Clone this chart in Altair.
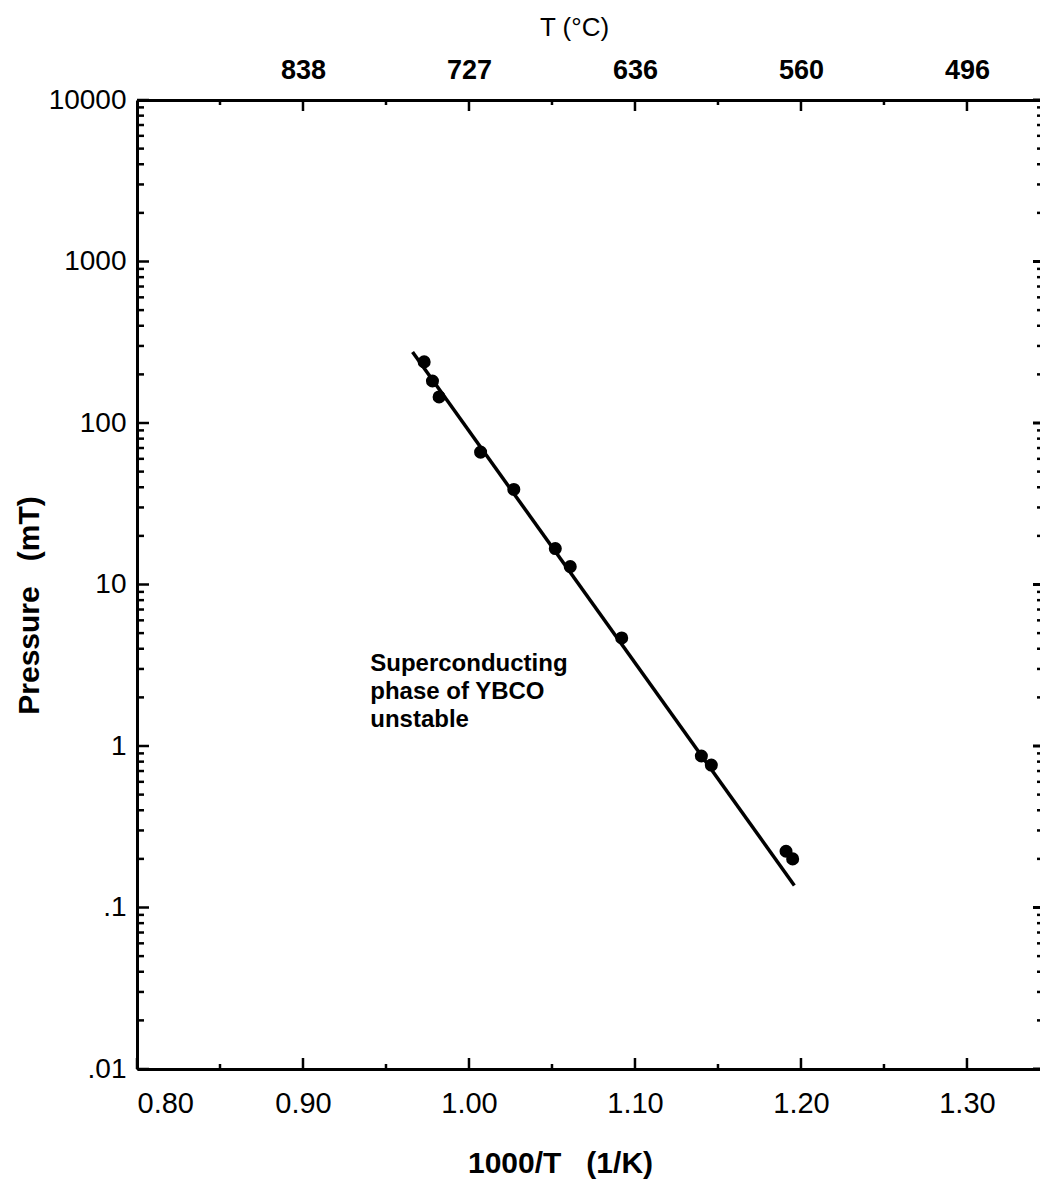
import math
import altair as alt
import pandas as pd

# ---- data ----
inv_T = [0.973, 0.978, 0.982, 1.007, 1.027, 1.052, 1.061, 1.092, 1.140, 1.146, 1.191, 1.195]
pressure = [239, 182, 145, 66, 38.8, 16.7, 12.9, 4.67, 0.867, 0.762, 0.223, 0.200]

fit_x = [0.966, 1.196]
fit_p = [275, 0.137]

x_major = [0.8, 0.9, 1.0, 1.1, 1.2, 1.3]
x_minor = [0.85, 0.95, 1.05, 1.15, 1.25]
top_major = [0.9, 1.0, 1.1, 1.2, 1.3]
top_labels = ["838", "727", "636", "560", "496"]
y_major = [0.01, 0.1, 1, 10, 100, 1000, 10000]
y_labels = [".01", ".1", "1", "10", "100", "1000", "10000"]
y_minor = [m * d for d in [0.01, 0.1, 1, 10, 100, 1000] for m in range(2, 10)]

ann_x = [0.9405]
ann_y = [2.92]
ann_text = ["Superconducting\nphase of YBCO\nunstable"]

W, H = 903, 969
FONT = "Liberation Sans"
NB = "\u00a0"

xscale = alt.Scale(domain=[0.8, 1.344], nice=False, zero=False)
yscale = alt.Scale(type="log", domain=[0.01, 10000], nice=False)

y_expr = "".join(
    f"round(log(datum.value)/LN10) == {round(math.log10(v))} ? '{l}' : "
    for v, l in zip(y_major, y_labels)
) + "''"
top_expr = "".join(
    f"round(datum.value*10) == {round(v*10)} ? '{l}' : " for v, l in zip(top_major, top_labels)
) + "''"

df_pts = pd.DataFrame({"x": inv_T, "p": pressure})
df_fit = pd.DataFrame({"x": fit_x, "p": fit_p})
df_ann = pd.DataFrame({"x": ann_x, "p": ann_y, "t": ann_text})

bottom_axis = alt.Axis(
    orient="bottom", values=x_major, format=".2f", title=f"1000/T{NB*3}(1/K)",
    labelFontSize=29, labelPadding=20, labelFontWeight="normal",
    titleFontSize=30, titleFontWeight="bold", titleX=423, titleY=94,
    titleBaseline="middle", titleAlign="center")
left_axis = alt.Axis(
    orient="left", values=y_major, labelExpr=y_expr, title=f"Pressure{NB*3}(mT)",
    labelFontSize=28, labelPadding=11, labelFontWeight="normal",
    titleFontSize=30, titleFontWeight="bold", titleX=-108, titleY=505,
    titleBaseline="middle", titleAlign="center")
top_axis = alt.Axis(
    orient="top", values=top_major, labelExpr=top_expr, title="T (°C)",
    labelFontSize=27, labelPadding=16, labelFontWeight="bold",
    titleFontSize=26, titleFontWeight="normal", titleX=437, titleY=-73,
    titleBaseline="middle", titleAlign="center")

tick_style = dict(color="black", strokeWidth=2.5)

# axes carried by tick layers
bot_major_ticks = alt.Chart(pd.DataFrame({"v": x_major})).mark_rule(**tick_style).encode(
    x=alt.X("v:Q", scale=xscale, axis=bottom_axis), y=alt.value(H), y2=alt.value(H - 11),
)
left_major_ticks = alt.Chart(pd.DataFrame({"v": y_major})).mark_rule(**tick_style).encode(
    y=alt.Y("v:Q", scale=yscale, axis=left_axis), x=alt.value(0), x2=alt.value(12),
)
top_major_ticks = alt.Chart(pd.DataFrame({"v": top_major})).mark_rule(**tick_style).encode(
    x=alt.X("v:Q", scale=xscale, axis=top_axis), y=alt.value(0), y2=alt.value(11),
)
top_minor_ticks = alt.Chart(pd.DataFrame({"v": x_minor})).mark_rule(**tick_style).encode(
    x=alt.X("v:Q", scale=xscale, axis=None), y=alt.value(0), y2=alt.value(5),
)
bot_minor_ticks = alt.Chart(pd.DataFrame({"v": x_minor})).mark_rule(**tick_style).encode(
    x=alt.X("v:Q", scale=xscale, axis=None), y=alt.value(H), y2=alt.value(H - 5),
)
left_minor_ticks = alt.Chart(pd.DataFrame({"v": y_minor})).mark_rule(**tick_style).encode(
    y=alt.Y("v:Q", scale=yscale, axis=None), x=alt.value(0), x2=alt.value(7),
)
right_major_ticks = alt.Chart(pd.DataFrame({"v": y_major})).mark_rule(color="black", strokeWidth=3).encode(
    y=alt.Y("v:Q", scale=yscale, axis=None), x=alt.value(W), x2=alt.value(W - 7),
)
right_minor_ticks = alt.Chart(pd.DataFrame({"v": y_minor})).mark_rule(color="black", strokeWidth=2.5).encode(
    y=alt.Y("v:Q", scale=yscale, axis=None), x=alt.value(W), x2=alt.value(W - 3),
)

line = alt.Chart(df_fit).mark_line(color="black", strokeWidth=3.5).encode(
    x=alt.X("x:Q", scale=xscale, axis=None),
    y=alt.Y("p:Q", scale=yscale, axis=None),
)

points = alt.Chart(df_pts).mark_circle(size=170, color="black", opacity=1).encode(
    x=alt.X("x:Q", scale=xscale, axis=None),
    y=alt.Y("p:Q", scale=yscale, axis=None),
)

ann = alt.Chart(df_ann).mark_text(
    align="left", baseline="alphabetic", fontSize=24, fontWeight="bold", font=FONT,
    lineBreak="\n", lineHeight=28, color="black"
).encode(
    x=alt.X("x:Q", scale=xscale, axis=None),
    y=alt.Y("p:Q", scale=yscale, axis=None),
    text="t:N",
)

chart = alt.layer(
    left_major_ticks, bot_major_ticks, top_major_ticks, top_minor_ticks, bot_minor_ticks,
    left_minor_ticks, right_major_ticks, right_minor_ticks,
    line, points, ann,
).resolve_axis(x="independent", y="independent").properties(
    width=W, height=H,
    padding={"left": 129, "top": 92, "right": 0, "bottom": 110},
    autosize=alt.AutoSizeParams(type="none"),
    background="white",
).configure_view(stroke=None).configure_axis(
    domainColor="black", domainWidth=3, ticks=False, tickSize=0, grid=False,
    labelColor="black", titleColor="black", labelFont=FONT, titleFont=FONT,
)

chart.save("out.html", embed_options={"renderer": "svg", "actions": False})
